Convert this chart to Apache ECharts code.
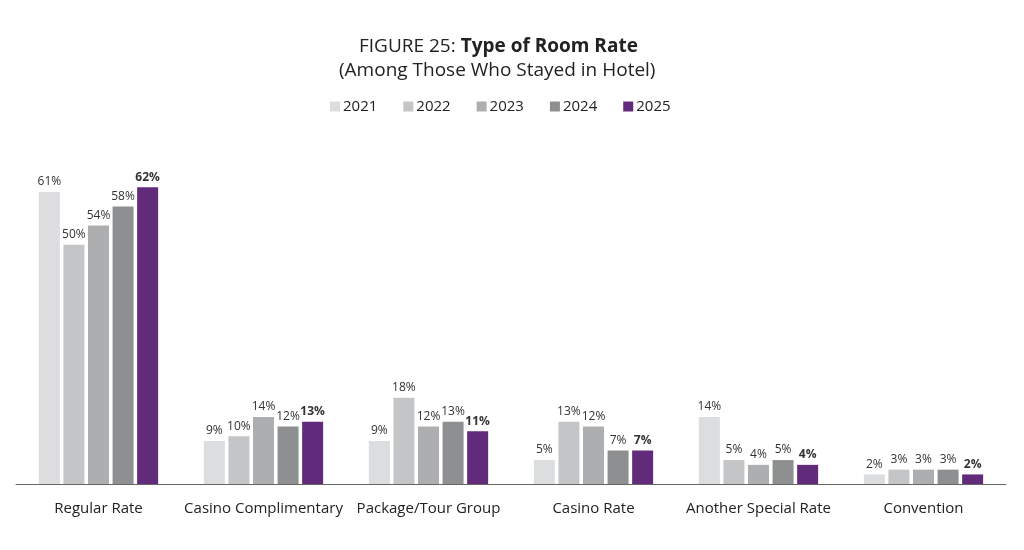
<!DOCTYPE html>
<html><head><meta charset="utf-8">
<script src="https://cdn.jsdelivr.net/npm/echarts@6/dist/echarts.min.js"></script>
<style>html,body{margin:0;padding:0;background:#fff}#c{width:1024px;height:550px}</style>
</head><body><div id="c"></div>
<script>
const categories = ['Regular Rate','Casino Complimentary','Package/Tour Group','Casino Rate','Another Special Rate','Convention'];
const years = ['2021','2022','2023','2024','2025'];
const v2021 = [61, 9, 9, 5, 14, 2];
const v2022 = [50, 10, 18, 13, 5, 3];
const v2023 = [54, 14, 12, 12, 4, 3];
const v2024 = [58, 12, 13, 7, 5, 3];
const v2025 = [62, 13, 11, 7, 4, 2];
const values = [v2021, v2022, v2023, v2024, v2025];
const colors = ['#dcdddf','#c4c5c7','#adaeb0','#8e8f91','#622a7a'];

const chart = echarts.init(document.getElementById('c'));
chart.setOption({
  animation: false,
  textStyle: {fontFamily: 'Open Sans'},
  title: [{
    text: '{n|FIGURE 25: }{b|Type of Room Rate}',
    left: 354, top: 32,
    textStyle: {fontWeight: 'normal', rich: {
      n: {fontSize: 19, color: '#222', fontWeight: 'normal', fontFamily: 'Open Sans'},
      b: {fontSize: 19, color: '#222', fontWeight: 'bold', fontFamily: 'Open Sans'}
    }}
  },{
    text: '(Among Those Who Stayed in Hotel)',
    left: 334, top: 56,
    textStyle: {fontSize: 19, color: '#222', fontWeight: 'normal', fontFamily: 'Open Sans'}
  }],
  legend: {
    top: 94, left: 325, itemWidth: 10, itemHeight: 10, itemGap: 26,
    icon: 'rect',
    textStyle: {fontSize: 15, color: '#222', fontFamily: 'Open Sans', padding: [0,0,0,-2]},
    data: years
  },
  grid: {left: 16, right: 18, top: 149, bottom: 66},
  xAxis: {
    type: 'category', data: categories,
    axisLine: {lineStyle: {color: '#666', width: 1}},
    axisTick: {show: false},
    axisLabel: {interval: 0, fontSize: 15, color: '#222', margin: 17, fontFamily: 'Open Sans'}
  },
  yAxis: {type: 'value', min: 0, max: 70, show: false, splitLine: {show: false}},
  series: years.map((y, i) => ({
    name: y, type: 'bar', data: values[i],
    barWidth: 21, barGap: '17%',
    itemStyle: {color: colors[i]},
    label: {
      show: true, position: 'top', distance: 4,
      formatter: '{c}%', fontSize: 12, color: '#333',
      fontWeight: i === 4 ? 'bold' : 'normal', fontFamily: 'Open Sans'
    }
  }))
});
</script></body></html>
